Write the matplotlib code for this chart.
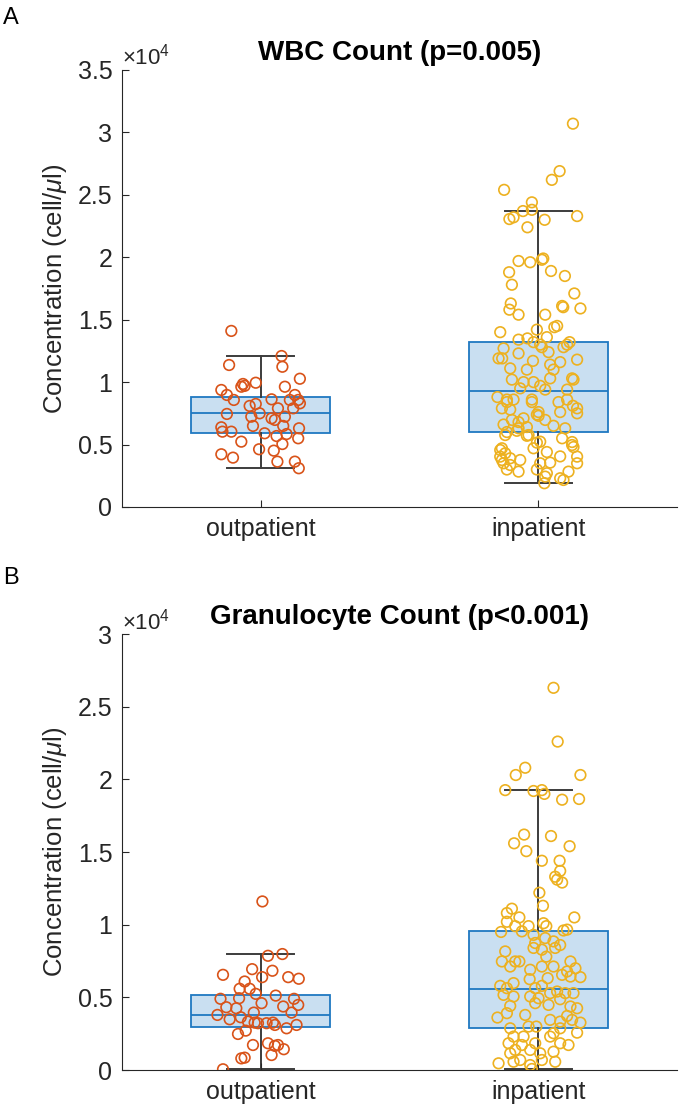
import numpy as np
import matplotlib
matplotlib.use("Agg")
import matplotlib.pyplot as plt
from matplotlib.ticker import FuncFormatter, MultipleLocator

plt.rcParams['font.family'] = ['Liberation Sans', 'DejaVu Sans']
plt.rcParams['mathtext.fontset'] = 'custom'
plt.rcParams['mathtext.rm'] = 'Liberation Sans'
plt.rcParams['mathtext.it'] = 'Liberation Sans:italic'

#########################################################################################
# Data (counts in cells/ul, jitter offsets in category units)
#########################################################################################
groups = ['outpatient', 'inpatient']

# WBC - box statistics: whisker low, q1, median, q3, whisker high
wbc_out_stats = [3100, 5900, 7500, 8830, 12090]
wbc_in_stats = [1900, 6030, 9260, 13190, 23700]

wbc_out_y = [14100, 12090, 11370, 11230, 10270, 9850, 9630, 9950, 9700, 9630, 9370, 8970,
             8570, 8970, 8570, 8300, 8570, 8620, 8250, 8090, 7900, 7450, 7500, 7900, 7230,
             7230, 6970, 7100, 6490, 6490, 6380, 6030, 6030, 6300, 5900, 5680, 5840, 5500,
             5230, 5040, 4620, 4510, 4220, 3950, 3630, 3630, 3100]
wbc_out_dx = [-0.106, 0.075, -0.114, 0.078, 0.141, -0.064, -0.070, -0.018, -0.058, 0.087,
              -0.142, -0.122, -0.097, 0.123, 0.135, 0.141, 0.105, 0.039, -0.018, -0.040,
              0.117, -0.122, -0.004, 0.062, 0.087, -0.034, 0.051, 0.039, -0.028, 0.081,
              -0.142, -0.138, -0.106, 0.138, 0.014, 0.057, 0.093, 0.135, -0.070, 0.078,
              -0.006, 0.047, -0.142, -0.100, 0.060, 0.123, 0.137]

wbc_in_y = [30700, 26900, 26200, 25400, 24400, 23700, 23800, 23060, 23200, 23000, 23300,
            22400, 19700, 19600, 19800, 19900, 18800, 18900, 18500, 17800, 17100, 16300,
            15800, 16100, 16000, 15900, 15400, 15400,
            14000, 14200, 14500, 14400, 13600, 13400, 13500, 13200, 13200, 12700, 11900,
            11900, 12300, 12800, 12400, 12800, 11800, 11600, 11700, 11100, 11000, 11000,
            11400, 10300, 10200, 10000, 10000, 9700, 9400, 9400, 9500, 8800, 8600, 8600,
            8400, 8400, 8600, 8100, 7500, 7600, 7400, 7300, 7800, 6600, 6800, 6400, 6500,
            6300, 6000, 6100, 5700, 5500, 5200, 5150, 4800, 4560, 4300, 3900, 3760, 3760,
            4400, 4050, 3500, 3500, 3550, 3000, 2830, 2700, 2830, 3000, 2160, 1900, 3360,
            4030,
            13000, 13000, 10300, 10200, 8400, 8600, 7900, 7900, 7600, 6970, 7100, 6970,
            6300, 5760, 5760, 4960, 5230, 4700, 4700, 4030, 3500, 2430, 2300]
wbc_in_dx = [0.125, 0.077, 0.049, -0.123, -0.023, -0.055, -0.023, -0.104, -0.089, 0.023,
             0.140, -0.039, -0.071, -0.029, 0.013, 0.018, -0.105, 0.046, 0.096, -0.095,
             0.130, -0.099, -0.104, 0.086, 0.090, 0.152, -0.071, 0.025,
             -0.137, -0.005, 0.068, 0.058, 0.031, -0.071, -0.039, 0.113, -0.017, -0.125,
             -0.143, -0.130, -0.071, 0.013, 0.037, 0.091, 0.140, 0.079, -0.019, -0.101,
             -0.041, 0.055, 0.043, 0.122, -0.095, -0.053, -0.017, 0.007, 0.025, 0.104,
             -0.065, -0.147, -0.113, -0.089, -0.023, 0.073, 0.104, 0.125, 0.140, 0.001,
             -0.005, 0.001, -0.101, -0.125, -0.071, -0.041, 0.055, 0.097, -0.113, -0.077,
             -0.041, 0.086, 0.122, -0.005, 0.127, -0.137, -0.119, -0.101, -0.131, -0.065,
             0.031, 0.079, 0.140, 0.007, 0.043, -0.113, -0.071, 0.031, 0.109, -0.005,
             0.091, 0.022, -0.101, -0.137,
             0.007, 0.104, 0.043, 0.127, -0.113, -0.023, 0.140, -0.131, 0.079, -0.095,
             -0.053, 0.025, -0.071, -0.119, -0.035, 0.122, 0.007, -0.017, -0.131, 0.140,
             -0.125, 0.025, 0.079]

# Granulocytes
gran_out_stats = [50, 2990, 3770, 5170, 7980]
gran_in_stats = [70, 2920, 5570, 9540, 19260]

gran_out_y = [11600, 7860, 7980, 6550, 6940, 6830, 6390, 6390, 6280, 6090, 5590, 5590,
              5240, 5120, 4900, 4940, 4900, 4600, 4320, 4250, 4370, 4480, 3950, 3790, 3490,
              3630, 3950, 3330, 3260, 3220, 3220, 3260, 3100, 2870, 3100, 2480, 2710, 1720,
              1840, 1660, 1720, 1430, 1030, 800, 850, 50]
gran_out_dx = [0.006, 0.026, 0.078, -0.136, -0.031, 0.042, 0.005, 0.099, 0.137, -0.058,
               -0.076, -0.040, -0.018, 0.054, -0.145, -0.078, 0.120, 0.003, -0.124, -0.088,
               0.081, 0.135, 0.111, -0.156, -0.112, -0.072, -0.025, -0.046, -0.022, -0.010,
               0.021, 0.044, 0.051, 0.093, 0.129, -0.082, -0.054, -0.028, 0.026, 0.051,
               0.062, 0.083, 0.039, -0.070, -0.058, -0.136]

gran_in_y = [26300, 22600, 20800, 20300, 20300, 19260, 19200, 19260, 19000, 18600, 18650,
             16200, 15600, 16100, 15400, 15060, 14400, 14400, 13700, 13300, 13100, 12900,
             12200, 11300, 11100, 10800, 10500, 10500, 10200, 9900, 9900, 10100, 9900, 9660,
             9600, 9500, 9540, 9300, 9080, 8740, 8850, 8600, 8400, 8280, 8400, 8160, 7470,
             7470, 7470, 7120, 7800, 7120, 7120, 7470, 7000, 6900, 6780, 6550, 6390, 6430,
             6320, 6250, 5980, 5790, 5790, 5630, 5630, 5290, 5400, 5290, 5290, 5170, 5060,
             5060, 4940, 4870, 4600, 4480, 4410, 4370, 4250, 3790, 3910, 3610, 3720, 3450,
             3450, 3330, 3260, 2990, 2990, 2870, 2870, 2530, 2570, 2300, 2300, 2300, 1840,
             1720, 1840, 1840, 1720, 1380, 1380, 1260, 1150, 1150, 690, 570, 460, 570, 340,
             70, 690]
gran_in_dx = [0.055, 0.070, -0.047, -0.081, 0.152, -0.119, -0.017, 0.013, 0.022, 0.086,
              0.147, -0.051, -0.087, 0.046, 0.113, -0.043, 0.013, 0.077, 0.079, 0.061,
              0.068, 0.086, 0.004, 0.017, -0.095, -0.113, -0.068, 0.130, -0.113, -0.083,
              -0.035, 0.019, 0.029, 0.104, 0.091, -0.134, -0.059, -0.017, 0.025, -0.011,
              0.055, 0.079, -0.017, 0.013, 0.061, -0.119, -0.131, -0.083, -0.068, -0.101,
              0.029, 0.013, 0.055, 0.116, 0.134, -0.029, 0.104, 0.086, 0.152, 0.116,
              0.034, -0.031, -0.089, 0.013, -0.137, -0.113, -0.011, 0.043, 0.068, 0.097,
              0.127, -0.125, -0.089, -0.029, 0.001, 0.079, -0.011, 0.037, -0.101, 0.116,
              0.140, -0.047, -0.113, -0.147, 0.104, 0.043, 0.122, 0.079, 0.152, -0.035,
              -0.007, -0.101, 0.079, 0.055, 0.140, -0.089, -0.053, 0.043, -0.107, -0.059,
              -0.011, 0.079, 0.109, -0.083, -0.029, 0.055, -0.101, 0.007, -0.065, 0.061,
              -0.143, -0.089, -0.029, -0.023, 0.013]

#########################################################################################
# Styling
#########################################################################################
box_edge = '#1f78c1'
box_face = '#c9dff1'
whisker_color = '#3c3c3c'
out_color = '#D95319'
in_color = '#EDB120'
text_color = '#262626'


def make_stats(s, label):
    return dict(whislo=s[0], q1=s[1], med=s[2], q3=s[3], whishi=s[4], fliers=[], label=label)


def draw_panel(ax, out_stats, in_stats, out_dx, out_y, in_dx, in_y, title, ymax):
    ax.bxp([make_stats(out_stats, groups[0]), make_stats(in_stats, groups[1])],
           positions=[1, 2], widths=0.5, patch_artist=True, capwidths=0.24,
           boxprops=dict(facecolor=box_face, edgecolor=box_edge, linewidth=1.3),
           medianprops=dict(color=box_edge, linewidth=1.3),
           whiskerprops=dict(color=whisker_color, linewidth=1.4),
           capprops=dict(color=whisker_color, linewidth=1.4), zorder=1)
    ax.scatter(1 + np.array(out_dx), out_y, s=58, facecolors='none',
               edgecolors=out_color, linewidths=1.2, zorder=3)
    ax.scatter(2 + np.array(in_dx), in_y, s=58, facecolors='none',
               edgecolors=in_color, linewidths=1.2, zorder=3)
    ax.set_xlim(0.5, 2.5)
    ax.set_ylim(0, ymax)
    ax.set_xticks([1, 2])
    ax.set_xticklabels(groups)
    ax.yaxis.set_major_locator(MultipleLocator(5000))
    ax.yaxis.set_major_formatter(FuncFormatter(lambda v, p: '%g' % (v / 1e4)))
    ax.tick_params(direction='in', length=5, width=0.8, colors=text_color,
                   labelsize=18, pad=7)
    for side in ['top', 'right']:
        ax.spines[side].set_visible(False)
    for side in ['left', 'bottom']:
        ax.spines[side].set_color(text_color)
        ax.spines[side].set_linewidth(0.8)
    ax.set_ylabel(r'Concentration (cell/$\mu$l)', fontsize=18.5, color=text_color, labelpad=6)
    ax.set_title(title, fontsize=20, fontweight='bold', pad=7)
    ax.text(0.0, 1.0, r'$\times10^{4}$', transform=ax.transAxes, ha='left', va='bottom',
            fontsize=16, color=text_color)


fig = plt.figure(figsize=(6.8, 11.11), dpi=100)
ax1 = fig.add_axes([0.1794, 0.5437, 0.8162, 0.3933])
ax2 = fig.add_axes([0.1794, 0.0369, 0.8162, 0.3924])

draw_panel(ax1, wbc_out_stats, wbc_in_stats, wbc_out_dx, wbc_out_y, wbc_in_dx, wbc_in_y,
           'WBC Count (p=0.005)', 35000)
draw_panel(ax2, gran_out_stats, gran_in_stats, gran_out_dx, gran_out_y, gran_in_dx, gran_in_y,
           'Granulocyte Count (p<0.001)', 30000)

fig.text(0.004, 0.984, 'A', fontsize=17, va='center', ha='left')
fig.text(0.004, 0.480, 'B', fontsize=17, va='center', ha='left')

fig.savefig('out.png', dpi=100)
